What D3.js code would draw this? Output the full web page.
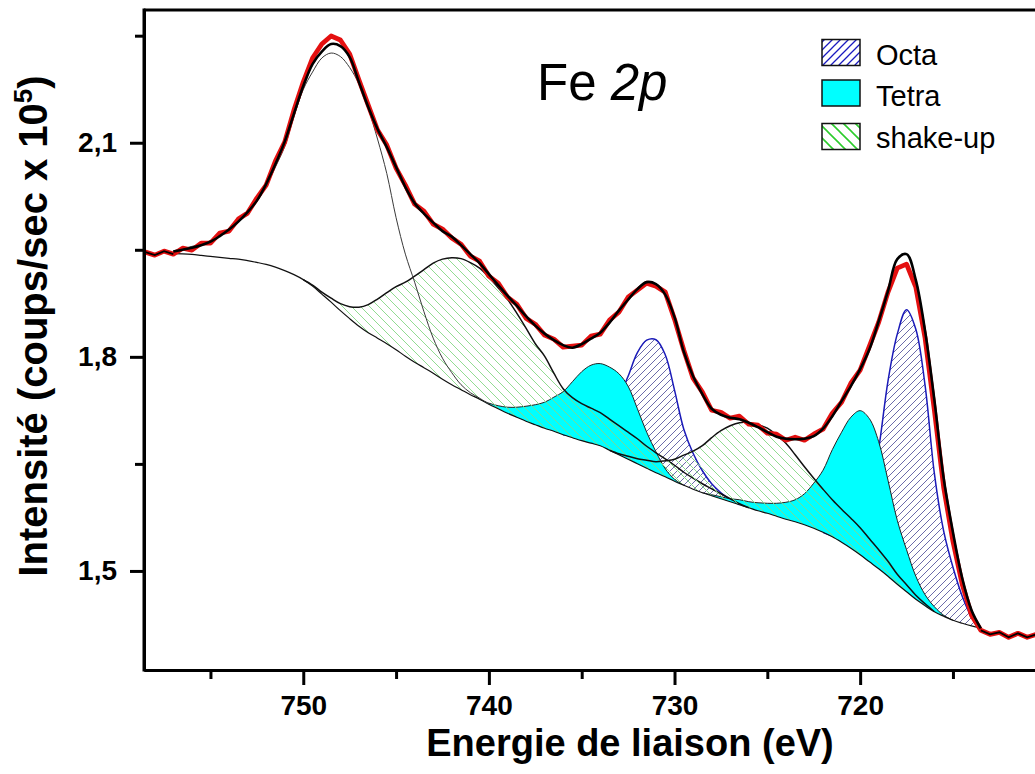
<!DOCTYPE html>
<html><head><meta charset="utf-8">
<script src="https://cdn.jsdelivr.net/npm/d3@7"></script>
<style>
body{margin:0;background:#fff;}
svg{display:block;}
text{font-family:"Liberation Sans",Arial,sans-serif;fill:#000;}
</style></head><body>
<svg id="c" width="1035" height="774"></svg>
<script>
// Binding energy grid (eV)
const energyData = [758.5,758,757.5,757,756.5,756,755.5,755,754.5,754,753.5,753,752.5,752,751.5,751,750.5,750,749.5,749,748.5,748,747.5,747,746.5,746,745.5,745,744.5,744,743.5,743,742.5,742,741.5,741,740.5,740,739.5,739,738.5,738,737.5,737,736.5,736,735.5,735,734.5,734,733.5,733,732.5,732,731.5,731,730.5,730,729.5,729,728.5,728,727.5,727,726.5,726,725.5,725,724.5,724,723.5,723,722.5,722,721.5,721,720.5,720,719.5,719,718.5,718,717.5,717,716.5,716,715.5,715,714.5,714,713.5,713,712.5,712,711.5,711,710.5];
// Measured intensity (x 10^5 counts/sec)
const measured = [1.9467,1.9425,1.9481,1.9439,1.9523,1.9495,1.9593,1.9593,1.9734,1.9762,
1.9930,2.0014,2.0224,2.0407,2.0743,2.1009,2.1458,2.1850,2.2187,2.2383,
2.2495,2.2439,2.2243,2.1879,2.1528,2.1178,2.0967,2.0645,2.0407,2.0140,
2.0042,1.9860,1.9790,1.9664,1.9579,1.9411,1.9341,1.9131,1.9033,1.8836,
1.8738,1.8542,1.8458,1.8304,1.8248,1.8136,1.8150,1.8164,1.8290,1.8318,
1.8514,1.8626,1.8836,1.8935,1.9033,1.8991,1.8907,1.8528,1.8093,1.7701,
1.7505,1.7252,1.7224,1.7140,1.7168,1.7056,1.7042,1.6930,1.6916,1.6832,
1.6874,1.6832,1.6916,1.6986,1.7210,1.7364,1.7631,1.7813,1.8150,1.8486,
1.8907,1.9243,1.9299,1.8977,1.8262,1.7252,1.6173,1.5416,1.4813,1.4379,
1.4168,1.4112,1.4140,1.4070,1.4126,1.4070,1.4112];
// Fit range energies (757.0 ... 713.5)
const energyFit = energyData.slice(3, 91);
const background = [1.9446,1.9443,1.9436,1.9422,1.9407,1.9393,1.9380,1.9369,1.9348,1.9323,
1.9295,1.9257,1.9208,1.9152,1.9082,1.8991,1.8879,1.8766,1.8647,1.8535,
1.8430,1.8339,1.8262,1.8185,1.8100,1.8009,1.7925,1.7848,1.7771,1.7687,
1.7610,1.7540,1.7470,1.7407,1.7337,1.7273,1.7210,1.7154,1.7098,1.7049,
1.7000,1.6958,1.6909,1.6867,1.6825,1.6790,1.6755,1.6692,1.6629,1.6565,
1.6502,1.6439,1.6376,1.6320,1.6257,1.6201,1.6145,1.6096,1.6054,1.6012,
1.5970,1.5928,1.5886,1.5843,1.5808,1.5766,1.5724,1.5689,1.5647,1.5598,
1.5542,1.5479,1.5402,1.5318,1.5227,1.5128,1.5030,1.4925,1.4813,1.4708,
1.4603,1.4512,1.4428,1.4365,1.4309,1.4267,1.4231,1.4203];
const envelope = [1.9477,1.9502,1.9530,1.9565,1.9614,1.9692,1.9783,1.9895,2.0028,2.0189,
2.0421,2.0701,2.1016,2.1409,2.1794,2.2103,2.2278,2.2383,2.2355,2.2201,
2.1850,2.1500,2.1192,2.0939,2.0659,2.0379,2.0154,2.0007,1.9881,1.9762,
1.9685,1.9565,1.9439,1.9313,1.9159,1.9005,1.8857,1.8717,1.8570,1.8437,
1.8325,1.8234,1.8164,1.8128,1.8178,1.8255,1.8339,1.8479,1.8647,1.8801,
1.8949,1.9047,1.9019,1.8872,1.8556,1.8072,1.7729,1.7477,1.7273,1.7189,
1.7147,1.7126,1.7077,1.7014,1.6944,1.6881,1.6853,1.6846,1.6853,1.6888,
1.6993,1.7168,1.7379,1.7589,1.7827,1.8107,1.8500,1.8921,1.9369,1.9439,
1.9075,1.8360,1.7393,1.6299,1.5542,1.4897,1.4449,1.4196];
// Components: intensity above background on the fit grid
const auger748 = [0.0042,0.0070,0.0112,0.0154,0.0224,0.0308,0.0407,0.0519,0.0673,0.0855,
0.1093,0.1402,0.1738,0.2215,0.2664,0.3000,0.3308,0.3491,0.3561,0.3519,
0.3393,0.3140,0.2790,0.2383,0.1850,0.1430,0.1121,0.0785,0.0491,0.0294,
0.0168,0.0070,0.0028,0.0014,0,
0,0,0,0,0,0,0,0,0,0, 0,0,0,0,0,0,0,0,0,0, 0,0,0,0,0,0,0,0,0,0, 0,0,0,0,0,0,0,0,0,0, 0,0,0,0,0,0,0,0,0,0, 0,0,0];
const shakeup741 = [0,0,0,0,0,0,0,0,0,0, 0,0,0,0,
0,0.0014,0.0028,0.0056,0.0098,0.0168,0.0266,0.0393,0.0547,0.0715,
0.0883,0.1037,0.1206,0.1374,0.1542,0.1682,0.1780,0.1836,0.1850,0.1836,
0.1780,0.1696,0.1598,0.1458,0.1304,0.1135,0.1009,0.0813,0.0645,0.0561,
0.0519,0.0491,0.0463,0.0435,0.0407,0.0379,0.0350,0.0308,0.0280,0.0252,
0.0224,0.0182,0.0154,0.0126,0.0098,0.0070,0.0042,0.0014,0,
0,0,0,0,0,0,0,0,0,0, 0,0,0,0,0,0,0,0,0,0, 0,0,0,0,0];
const tetra734 = [0,0,0,0,0,0,0,0,0,0, 0,0,0,0,0,0,0,0,0,0, 0,0,0,0,0,0,0,0,0,0, 0,0,0,
0,0.0014,0.0042,0.0084,0.0140,0.0210,0.0280,0.0364,0.0477,0.0603,
0.0785,0.0967,0.1093,0.1150,0.1164,0.1136,0.1023,0.0771,0.0505,0.0294,
0.0112,0.0028,0,
0,0,0,0,0,0,0,0,0,0, 0,0,0,0,0,0,0,0,0,0, 0,0,0,0,0,0,0,0,0,0, 0,0];
const octa731 = [0,0,0,0,0,0,0,0,0,0, 0,0,0,0,0,0,0,0,0,0, 0,0,0,0,0,0,0,0,0,0, 0,0,0,0,0,0,0,0,0,0, 0,0,
0,0.0028,0.0070,0.0154,0.0294,0.0505,0.0799,0.1164,0.1556,0.1794,
0.1864,0.1710,0.1276,0.0785,0.0505,0.0308,0.0168,0.0084,0.0028,0,
0,0,0,0,0,0,0,0,0,0, 0,0,0,0,0,0,0,0,0,0, 0,0,0,0,0,0];
const shakeup726 = [0,0,0,0,0,0,0,0,0,0, 0,0,0,0,0,0,0,0,0,0, 0,0,0,0,0,0,0,0,0,0, 0,0,0,0,0,0,0,0,0,0, 0,0,0,0,0,0,0,
0,0.0014,0.0042,0.0070,0.0112,0.0154,0.0224,0.0308,0.0421,0.0533,
0.0659,0.0813,0.0953,0.1065,0.1150,0.1192,0.1206,0.1192,0.1136,0.1065,
0.0939,0.0813,0.0701,0.0603,0.0519,0.0463,0.0421,0.0379,0.0322,0.0266,
0.0210,0.0140,0.0098,0.0056,0.0028,0,
0,0,0,0,0];
const tetra720 = [0,0,0,0,0,0,0,0,0,0, 0,0,0,0,0,0,0,0,0,0, 0,0,0,0,0,0,0,0,0,0, 0,0,0,0,0,0,0,0,0,0, 0,0,0,0,0,0,0,0,0,0, 0,0,0,0,0,0,0,
0,0.0014,0.0028,0.0042,0.0070,0.0084,0.0112,0.0140,0.0182,0.0238,
0.0308,0.0435,0.0631,0.0869,0.1220,0.1542,0.1836,0.2019,0.2005,0.1780,
0.1346,0.0897,0.0589,0.0322,0.0154,0.0070,0.0014,0,
0,0,0];
const octa717 = [0,0,0,0,0,0,0,0,0,0, 0,0,0,0,0,0,0,0,0,0, 0,0,0,0,0,0,0,0,0,0, 0,0,0,0,0,0,0,0,0,0, 0,0,0,0,0,0,0,0,0,0, 0,0,0,0,0,0,0,0,0,0, 0,0,0,0,0,0,0,0,0,0,
0,0.0014,0.0056,0.0168,0.0407,0.0869,0.1682,0.2734,0.3505,0.3953,
0.3785,0.3084,0.1935,0.1192,0.0743,0.0379,0.0126,0];

const xTicksMajor = [750, 740, 730, 720];
const xTicksMinor = [755, 745, 735, 725, 715];
const yTicksMajor = [1.5, 1.8, 2.1];
const yTicksMinor = [1.65, 1.95, 2.25];
const legendLabels = ["Octa", "Tetra", "shake-up"];

const svg = d3.select("#c");
svg.append("rect").attr("width",1035).attr("height",774).attr("fill","#fff");

const x = d3.scaleLinear().domain([758.58, 710.58]).range([144, 1035]);
const y = d3.scaleLinear().domain([1.3612, 2.2860]).range([670, 10]);

const defs = svg.append("defs");
function hatch(id, size, color, width, dir) {
  const p = defs.append("pattern").attr("id", id).attr("patternUnits","userSpaceOnUse")
    .attr("width", size).attr("height", size);
  const s = size;
  const d = dir === "/" ?
    `M${-s/4},${s/4} L${s/4},${-s/4} M0,${s} L${s},0 M${3*s/4},${5*s/4} L${5*s/4},${3*s/4}` :
    `M${-s/4},${3*s/4} L${s/4},${5*s/4} M0,0 L${s},${s} M${3*s/4},${-s/4} L${5*s/4},${s/4}`;
  p.append("path").attr("d", d).attr("stroke", color).attr("stroke-width", width).attr("fill","none");
}
hatch("octaH", 7, "#5a5aa0", 0.9, "/");
hatch("shakeH", 9, "#86d886", 0.9, "\\");
hatch("octaL", 8, "#1a1ac0", 1.3, "/");
hatch("shakeL", 12, "#2ccc2c", 1.6, "\\");

defs.append("clipPath").attr("id","plotClip").append("rect")
  .attr("x",144).attr("y",10).attr("width",900).attr("height",660);

const plot = svg.append("g").attr("clip-path","url(#plotClip)");
const curve = d3.curveCatmullRom.alpha(0.5);

function compPoints(comp) {
  let first = -1, last = -1;
  comp.forEach((v, j) => { if (v > 0) { if (first < 0) first = j; last = j; } });
  first = Math.max(0, first - 1); last = Math.min(comp.length - 1, last + 1);
  return d3.range(first, last + 1).map(j => ({e: energyFit[j], b: background[j], v: background[j] + comp[j]}));
}
function drawComp(comp, fill, stroke, sw, doFill) {
  const pts = compPoints(comp);
  if (doFill) {
    plot.append("path").datum(pts)
      .attr("d", d3.area().x(d => x(d.e)).y0(d => y(d.b)).y1(d => y(d.v)).curve(curve))
      .attr("fill", fill).attr("stroke", "none");
  }
  plot.append("path").datum(pts)
    .attr("d", d3.line().x(d => x(d.e)).y(d => y(d.v)).curve(curve))
    .attr("fill","none").attr("stroke", stroke).attr("stroke-width", sw);
}

// Octa (hatched blue)
drawComp(octa731, "url(#octaH)", "#1a1ab8", 1.5, true);
drawComp(octa717, "url(#octaH)", "#1a1ab8", 1.5, true);
// Tetra (cyan)
drawComp(tetra734, "#00ffff", "#222", 1, true);
drawComp(tetra720, "#00ffff", "#222", 1, true);
// Shake-up (hatched green)
drawComp(shakeup741, "url(#shakeH)", "#111", 1.5, true);
drawComp(shakeup726, "url(#shakeH)", "#111", 1.5, true);

// Background
const fitPts = energyFit.map((e, j) => ({e, b: background[j], env: envelope[j]}));
plot.append("path").datum(fitPts)
  .attr("d", d3.line().x(d => x(d.e)).y(d => y(d.b)).curve(curve))
  .attr("fill","none").attr("stroke","#111").attr("stroke-width",1.2);
// Auger-like peak (thin line, unfilled)
drawComp(auger748, "none", "#3a3a3a", 1, false);

// Measured data (red)
const dataPts = energyData.map((e, i) => ({e, v: measured[i]}));
const dataLine = d3.line().x(d => x(d.e)).y(d => y(d.v));
plot.append("path").datum(dataPts).attr("d", dataLine)
  .attr("fill","none").attr("stroke","#e41010").attr("stroke-width",4.8).attr("stroke-linejoin","round");
// Data outside fit window drawn in black
const lo = d3.min(energyFit), hi = d3.max(energyFit);
[dataPts.filter(d => d.e >= hi), dataPts.filter(d => d.e <= lo)].forEach(seg => {
  plot.append("path").datum(seg).attr("d", dataLine)
    .attr("fill","none").attr("stroke","#000").attr("stroke-width",1.8);
});
// Envelope
plot.append("path").datum(fitPts)
  .attr("d", d3.line().x(d => x(d.e)).y(d => y(d.env)).curve(curve))
  .attr("fill","none").attr("stroke","#000").attr("stroke-width",2.6);

// Frame
svg.append("line").attr("x1",144).attr("x2",1035).attr("y1",10).attr("y2",10)
  .attr("stroke","#000").attr("stroke-width",3);

// Axes
function styleAxis(g) {
  g.selectAll("path.domain").attr("stroke","#000").attr("stroke-width",3);
  g.selectAll(".tick line").attr("stroke","#000").attr("stroke-width",3);
  g.selectAll(".tick text").attr("font-family",'"Liberation Sans",Arial,sans-serif')
    .attr("font-weight","bold").attr("font-size",28).attr("fill","#000");
}
const gxMinor = svg.append("g").attr("transform","translate(0,670)")
  .call(d3.axisBottom(x).tickValues(xTicksMinor).tickSize(9).tickSizeOuter(0).tickFormat(""));
styleAxis(gxMinor);
const gx = svg.append("g").attr("transform","translate(0,670)")
  .call(d3.axisBottom(x).tickValues(xTicksMajor).tickSize(15).tickSizeOuter(0).tickPadding(10).tickFormat(d3.format("d")));
styleAxis(gx);

const gyMinor = svg.append("g").attr("transform","translate(144,0)")
  .call(d3.axisLeft(y).tickValues(yTicksMinor).tickSize(9).tickSizeOuter(0).tickFormat(""));
styleAxis(gyMinor);
const gy = svg.append("g").attr("transform","translate(144,0)")
  .call(d3.axisLeft(y).tickValues(yTicksMajor).tickSize(14).tickSizeOuter(0).tickPadding(13)
    .tickFormat(d => d.toFixed(1).replace(".", ",")));
styleAxis(gy);
// extend left axis to top frame
svg.append("line").attr("x1",144).attr("x2",144).attr("y1",8.5).attr("y2",671.5)
  .attr("stroke","#000").attr("stroke-width",3);

// Axis titles
svg.append("text").attr("x",630).attr("y",756).attr("text-anchor","middle")
  .attr("font-weight","bold").attr("font-size",38).text("Energie de liaison (eV)");
const yt = svg.append("text").attr("transform","translate(47,326) rotate(-90)")
  .attr("text-anchor","middle").attr("font-weight","bold").attr("font-size",40);
yt.append("tspan").text("Intensité (coups/sec x 10");
yt.append("tspan").attr("font-size",26).attr("dy",-15).text("5");
yt.append("tspan").attr("dy",15).text(")");

// Title
const tt = svg.append("text").attr("x",537).attr("y",100).attr("font-size",51);
tt.append("tspan").text("Fe ");
tt.append("tspan").attr("font-style","italic").text("2p");

// Legend
const legFills = ["url(#octaL)", "#00ffff", "url(#shakeL)"];
const legY = [39.5, 80, 123.5];
const legBase = [65, 106, 148];
legendLabels.forEach((lab, k) => {
  svg.append("rect").attr("x",822).attr("y",legY[k]).attr("width",38).attr("height",26)
    .attr("fill", legFills[k]).attr("stroke","#111").attr("stroke-width",1.5);
  svg.append("text").attr("x",876).attr("y",legBase[k]).attr("font-size",29).text(lab);
});
</script>
</body></html>
